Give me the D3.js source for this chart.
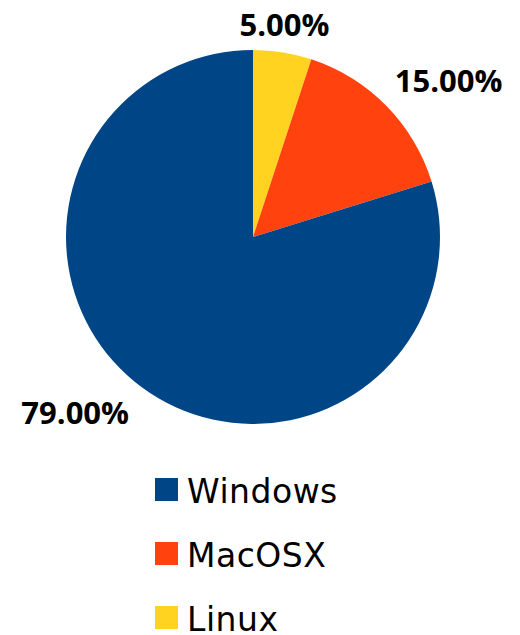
<!DOCTYPE html>
<html>
<head>
<meta charset="utf-8">
<script src="https://cdn.jsdelivr.net/npm/d3@7"></script>
<style>
	body { margin:0; background:#fff; }
	.sliceLabel { font-family:"Open Sans", "Noto Sans", sans-serif; font-weight:bold; font-size:31px; fill:#000; }
	.legendText { font-family:"DejaVu Sans", sans-serif; font-size:33px; fill:#000; letter-spacing:0.5px; }
</style>
</head>
<body>
<div id="idChart"></div>
<script>
var aNames=["Linux","MacOSX","Windows"];
var aValues=[5,15,79];
var aColors=["#ffd320","#ff420e","#004586"];
var aLegendOrder=["Windows","MacOSX","Linux"];

var iWidth=520;
var iHeight=635;
var iCX=253;
var iCY=237;
var iRadius=187;

var mySvg=d3.select("#idChart").append("svg")
	.attr("width",iWidth)
	.attr("height",iHeight);

var myColor=d3.scaleOrdinal()
	.domain(aNames)
	.range(aColors);

var myPie=d3.pie()
	.sort(null)
	.value(function(d){return d.value;});

var myArc=d3.arc()
	.innerRadius(0)
	.outerRadius(iRadius);

var aSlices=myPie(aNames.map(function(sName,i){return {name:sName,value:aValues[i]};}));

var myPieGroup=mySvg.append("g")
	.attr("transform","translate("+iCX+","+iCY+")");

myPieGroup.selectAll(".slice")
	.data(aSlices)
	.enter()
	.append("path")
		.attr("class","slice")
		.attr("d",myArc)
		.attr("fill",function(d){return myColor(d.data.name);});

// labels sit just outside the rim, anchored by which side of the pie they fall on
myPieGroup.selectAll(".sliceLabel")
	.data(aSlices)
	.enter()
	.append("text")
		.attr("class","sliceLabel")
		.text(function(d){return d3.format(".2f")(d.data.value)+"%";})
		.attr("x",function(d){
			var fMid=(d.startAngle+d.endAngle)/2;
			var fX=(iRadius+12)*Math.sin(fMid);
			return Math.sin(fMid)<-0.2 ? fX-6 : fX;
		})
		.attr("y",function(d){
			var fMid=(d.startAngle+d.endAngle)/2;
			var fY=-(iRadius+12)*Math.cos(fMid);
			return Math.cos(fMid)>0 ? fY-5 : fY+27;
		})
		.attr("text-anchor",function(d){
			var fSin=Math.sin((d.startAngle+d.endAngle)/2);
			return fSin>0.2 ? "start" : (fSin<-0.2 ? "end" : "middle");
		});

var myLegend=mySvg.append("g")
	.attr("transform","translate(155,478)");

var myLegendRows=myLegend.selectAll(".legendRow")
	.data(aLegendOrder)
	.enter()
	.append("g")
		.attr("class","legendRow")
		.attr("transform",function(sName,i){return "translate(0,"+(i*64)+")";});

myLegendRows.append("rect")
	.attr("width",23)
	.attr("height",23)
	.attr("fill",function(sName){return myColor(sName);});

myLegendRows.append("text")
	.attr("class","legendText")
	.attr("x",32)
	.attr("y",25)
	.text(function(sName){return sName;});
</script>
</body>
</html>
